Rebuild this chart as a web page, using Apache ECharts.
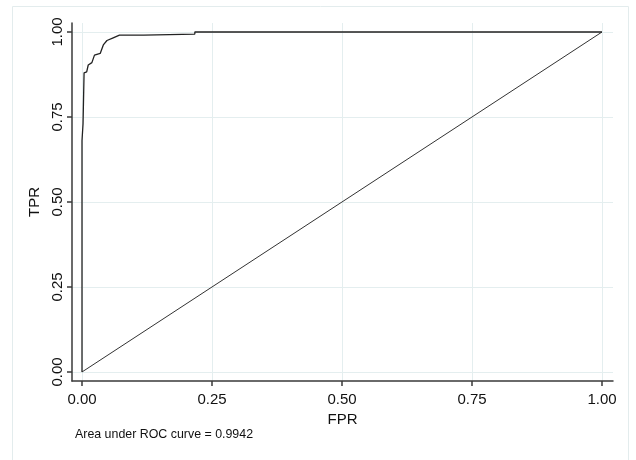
<!DOCTYPE html>
<html><head><meta charset="utf-8">
<script src="https://cdn.jsdelivr.net/npm/echarts@6/dist/echarts.min.js"></script>
<style>html,body{margin:0;padding:0;background:#fff}#c{width:636px;height:460px}</style>
</head><body><div id="c"></div>
<script>
const fpr = [0, 0, 0.002, 0.002, 0.004, 0.004, 0.009, 0.012, 0.019, 0.024, 0.035, 0.041, 0.048, 0.060, 0.072, 0.119, 0.119, 0.217, 0.217, 1];
const tpr = [0, 0.68, 0.68, 0.73, 0.73, 0.88, 0.883, 0.903, 0.91, 0.932, 0.937, 0.962, 0.975, 0.983, 0.991, 0.991, 0.994, 0.994, 1.0, 1.0];
const refX = [0, 1];
const refY = [0, 1];
const ticks = [0, 0.25, 0.5, 0.75, 1];
const xTitle = 'FPR';
const yTitle = 'TPR';
const note = 'Area under ROC curve = 0.9942';

const FONT = "'Liberation Sans',Arial,sans-serif";
const chart = echarts.init(document.getElementById('c'), null, {renderer: 'canvas'});
const grid = '#e4eeef';
const axisCol = '#3a3a3a';
chart.setOption({
  animation: false,
  backgroundColor: '#fff',
  graphic: [
    {type: 'rect', shape: {x: 12.5, y: 6.5, width: 616, height: 470}, style: {fill: 'none', stroke: '#e3eced', lineWidth: 1}, silent: true},
    {type: 'text', left: 75, top: 429, style: {text: note, font: '12.4px ' + FONT, fill: '#111'}}
  ],
  grid: {left: 72, right: 23, top: 23, bottom: 79, containLabel: false},
  xAxis: {
    type: 'value', min: -0.01923, max: 1.0212,
    name: xTitle, nameLocation: 'middle', nameGap: 18,
    nameTextStyle: {fontFamily: FONT, fontSize: 15, color: '#111'},
    axisLine: {show: true, onZero: false, lineStyle: {color: axisCol, width: 1.5}},
    axisTick: {show: true, length: 5, customValues: ticks, lineStyle: {color: axisCol, width: 1.5}},
    axisLabel: {customValues: ticks, margin: 11, fontFamily: FONT, fontSize: 15, color: '#111',
      formatter: v => v.toFixed(2)},
    splitLine: {show: true, lineStyle: {color: grid, width: 1}}
  },
  yAxis: {
    type: 'value', min: -0.0265, max: 1.0265,
    name: yTitle, nameLocation: 'middle', nameGap: 24, nameRotate: 90,
    nameTextStyle: {fontFamily: FONT, fontSize: 15, color: '#111'},
    axisLine: {show: true, onZero: false, lineStyle: {color: axisCol, width: 1.5}},
    axisTick: {show: true, length: 5, customValues: ticks, lineStyle: {color: axisCol, width: 1.5}},
    axisLabel: {customValues: ticks, rotate: 90, margin: 7, fontFamily: FONT, fontSize: 15, color: '#111',
      formatter: v => v.toFixed(2)},
    splitLine: {show: true, lineStyle: {color: grid, width: 1}}
  },
  series: [
    {type: 'line', data: refX.map((x, i) => [x, refY[i]]), showSymbol: false, symbol: 'none',
      lineStyle: {color: '#333', width: 1}, silent: true},
    {type: 'line', data: fpr.map((x, i) => [x, tpr[i]]), showSymbol: false, symbol: 'none',
      lineStyle: {color: '#222', width: 1.3}, silent: true}
  ]
});
</script></body></html>
